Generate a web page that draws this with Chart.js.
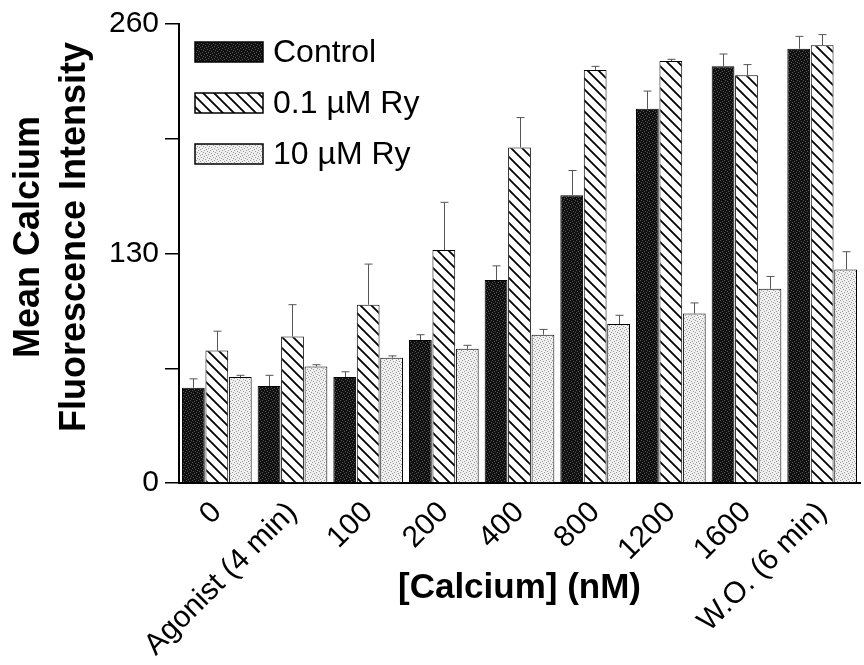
<!DOCTYPE html>
<html>
<head>
<meta charset="utf-8">
<script src="https://cdn.jsdelivr.net/npm/chart.js@4/dist/chart.umd.min.js"></script>
<style>
  body { margin: 0; background: #fff; }
  canvas { display: block; }
</style>
</head>
<body>
<canvas id="calciumChart" width="864" height="665"></canvas>
<script>
// data
const categories = ['0', 'Agonist (4 min)', '100', '200', '400', '800', '1200', '1600', 'W.O. (6 min)'];
const control = [54, 55, 60, 81, 115, 163, 212, 236, 246];
const controlErr = [5, 6, 3, 3, 8, 14, 10, 7, 7];
const ry01 = [75, 83, 101, 132, 190, 234, 239, 231, 248];
const ry01Err = [11, 18, 23, 27, 17, 2, 1, 6, 6];
const ry10 = [60, 66, 71, 76, 84, 90, 96, 110, 121];
const ry10Err = [1, 1, 1, 2, 3, 5, 6, 7, 10];
const yTicks = [0, 130, 260];

const FONT = "'Liberation Sans', Arial, sans-serif";

function makePattern(size, draw) {
    const c = document.createElement('canvas');
    c.width = size;
    c.height = size;
    const g = c.getContext('2d');
    draw(g, size);
    return g.createPattern(c, 'repeat');
}

// speckled fills, like the scanned stipple
const dots = [[0, 0], [3, 1], [1, 3], [4, 4], [2, 5], [5, 2]];
const darkFill = makePattern(6, function (g, s) {
    g.fillStyle = '#111';
    g.fillRect(0, 0, s, s);
    g.fillStyle = '#555';
    dots.forEach(d => g.fillRect(d[0], d[1], 1, 1));
});
const lightFill = makePattern(6, function (g, s) {
    g.fillStyle = '#efefef';
    g.fillRect(0, 0, s, s);
    g.fillStyle = '#999';
    dots.forEach(d => g.fillRect(d[0], d[1], 1, 1));
});
const hatchFill = makePattern(11, function (g, s) {
    g.fillStyle = '#fff';
    g.fillRect(0, 0, s, s);
    g.strokeStyle = '#000';
    g.lineWidth = 1.8;
    g.beginPath();
    g.moveTo(-1, -1); g.lineTo(s + 1, s + 1);
    g.moveTo(-1, s - 1); g.lineTo(1, s + 1);
    g.moveTo(s - 1, -1); g.lineTo(s + 1, 1);
    g.stroke();
});

// upper error whiskers
const errorBars = {
    id: 'errorBars',
    afterDatasetsDraw(chart) {
        const ctx = chart.ctx;
        const y = chart.scales.y;
        ctx.save();
        ctx.strokeStyle = '#555';
        ctx.lineWidth = 1;
        chart.data.datasets.forEach((ds, i) => {
            chart.getDatasetMeta(i).data.forEach((bar, j) => {
                const top = y.getPixelForValue(ds.data[j] + ds.errors[j]);
                const x = Math.round(bar.x) + 0.5;
                ctx.beginPath();
                ctx.moveTo(x, bar.y);
                ctx.lineTo(x, top);
                ctx.moveTo(x - 4, top);
                ctx.lineTo(x + 4, top);
                ctx.stroke();
            });
        });
        ctx.restore();
    }
};

// legend inside the plot, top left
const boxLegend = {
    id: 'boxLegend',
    afterDraw(chart) {
        const ctx = chart.ctx;
        const area = chart.chartArea;
        ctx.save();
        chart.data.datasets.forEach((ds, i) => {
            const bx = area.left + 16;
            const by = area.top + 18 + i * 51;
            ctx.fillStyle = ds.backgroundColor;
            ctx.fillRect(bx, by, 68, 20);
            ctx.strokeStyle = '#000';
            ctx.lineWidth = 1.5;
            ctx.strokeRect(bx, by, 68, 20);
            ctx.fillStyle = '#000';
            ctx.font = '32px ' + FONT;
            ctx.textBaseline = 'middle';
            ctx.fillText(ds.label, bx + 78, by + 11);
        });
        ctx.restore();
    }
};

// two-line y title
const yTitle = {
    id: 'yTitle',
    afterDraw(chart) {
        const ctx = chart.ctx;
        ctx.save();
        ctx.translate(0, 237);
        ctx.rotate(-Math.PI / 2);
        ctx.fillStyle = '#000';
        ctx.font = 'bold 36px ' + FONT;
        ctx.textAlign = 'center';
        ctx.textBaseline = 'middle';
        ctx.fillText('Mean Calcium', 0, 29);
        ctx.fillText('Fluorescence Intensity', 0, 75);
        ctx.restore();
    }
};

const ctx = document.getElementById('calciumChart').getContext('2d');
const calciumChart = new Chart(ctx, {
    type: 'bar',
    data: {
        labels: categories,
        datasets: [
            { label: 'Control', data: control, errors: controlErr, backgroundColor: darkFill },
            { label: '0.1 µM Ry', data: ry01, errors: ry01Err, backgroundColor: hatchFill },
            { label: '10 µM Ry', data: ry10, errors: ry10Err, backgroundColor: lightFill }
        ]
    },
    options: {
        responsive: false,
        animation: false,
        devicePixelRatio: 1,
        layout: { padding: { top: 23, right: 4, left: 0, bottom: 0 } },
        datasets: {
            bar: {
                categoryPercentage: 0.93,
                barPercentage: 0.97,
                borderWidth: 1,
                borderColor: '#000'
            }
        },
        plugins: {
            legend: { display: false },
            tooltip: { enabled: false }
        },
        scales: {
            x: {
                grid: { display: false, drawTicks: false },
                border: { display: true, color: '#000', width: 2 },
                ticks: {
                    color: '#000',
                    font: { family: FONT, size: 30 },
                    minRotation: 45,
                    maxRotation: 45,
                    autoSkip: false,
                    padding: 12
                },
                title: {
                    display: true,
                    text: '[Calcium] (nM)',
                    color: '#000',
                    font: { family: FONT, size: 35, weight: 'bold' },
                    padding: { top: 0, bottom: 56 }
                },
                afterFit(scale) { scale.height = 182; }
            },
            y: {
                min: 0,
                max: 260,
                grid: { drawOnChartArea: false, drawTicks: true, tickLength: 14, color: '#000', lineWidth: 1.5 },
                border: { display: true, color: '#000', width: 2 },
                ticks: {
                    stepSize: 65,
                    color: '#000',
                    font: { family: FONT, size: 30 },
                    padding: 6,
                    callback: v => yTicks.includes(v) ? v : ''
                },
                afterFit(scale) { scale.width = 179; }
            }
        }
    },
    plugins: [errorBars, boxLegend, yTitle]
});
</script>
</body>
</html>
